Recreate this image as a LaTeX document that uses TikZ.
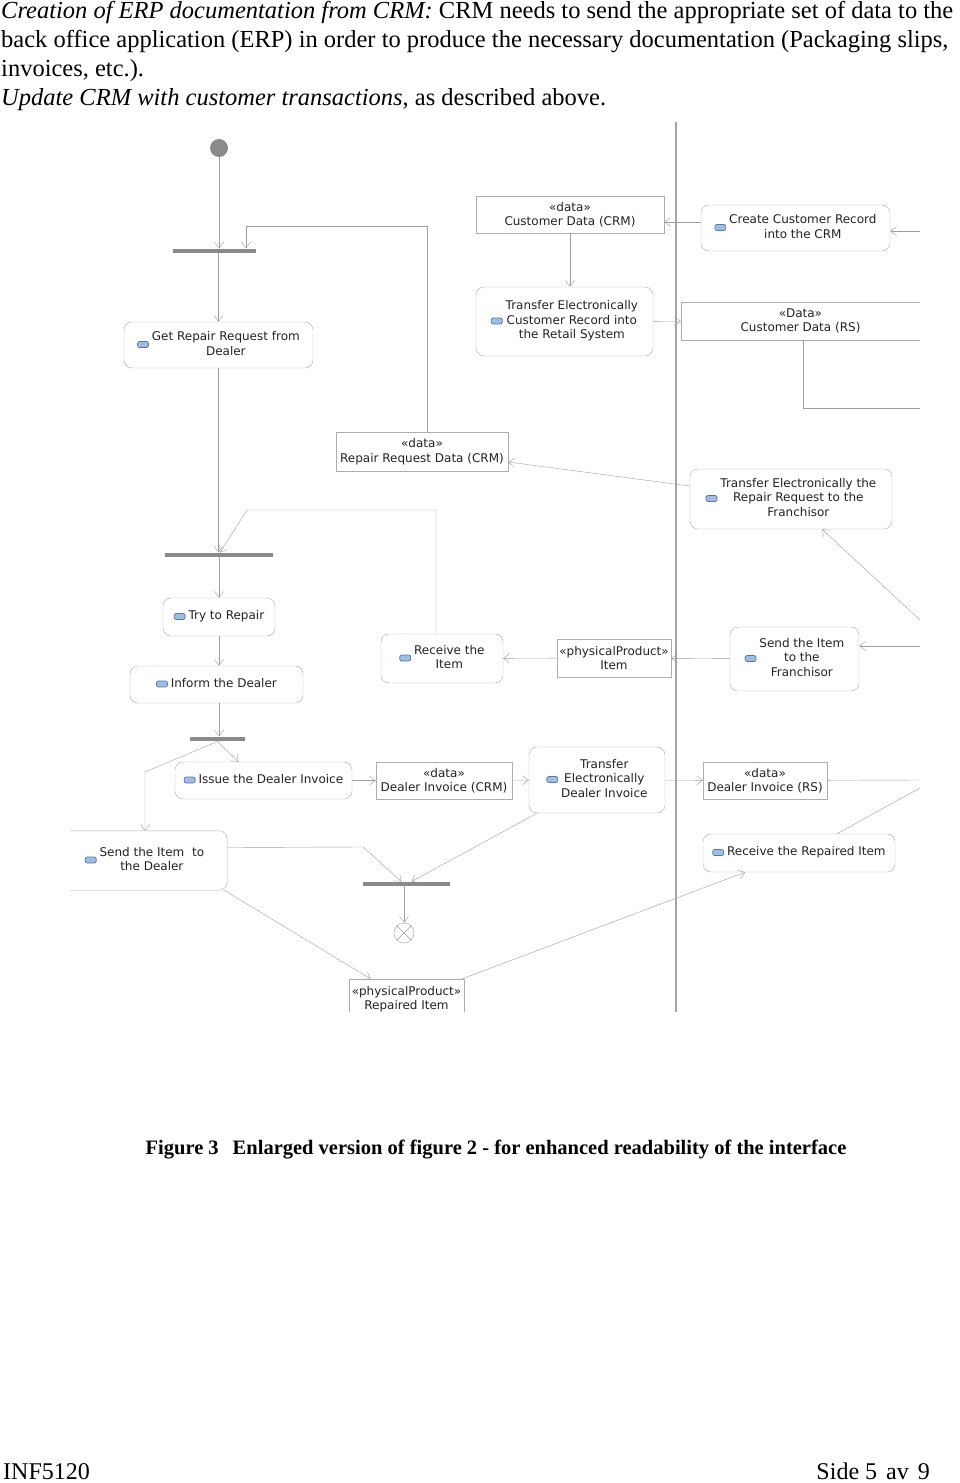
\documentclass[tikz,border=0pt]{standalone}
\usepackage{fontspec}
\usepackage{xcolor}
\usepackage{tikz}
\usetikzlibrary{arrows.meta,positioning,calc}

\newfontfamily\hdfont{Liberation Serif}
\newfontfamily\dgfont{DejaVu Sans}

\definecolor{lncol}{HTML}{9E9E9E}
\definecolor{bdcol}{HTML}{ADADAD}
\definecolor{barcol}{HTML}{8A8A8A}
\definecolor{lanecol}{HTML}{A4A4A4}
\definecolor{txcol}{HTML}{222222}
\definecolor{icofill}{HTML}{9FBDE3}
\definecolor{icobd}{HTML}{5277A8}

% small blue action glyph in front of an activity label
\newcommand{\actico}{\tikz[baseline={([yshift=-3.5pt]current bounding box.center)}]
  \draw[draw=icobd,fill=icofill,rounded corners=2pt,line width=0.7pt] (0,0) rectangle (11pt,6pt);}
\newcommand{\actlbl}[1]{\actico\hspace{3pt}\begin{tabular}{@{}c@{}}#1\end{tabular}}

\begin{document}
\begin{tikzpicture}[x=1pt,y=1pt,
  font=\dgfont\fontsize{12}{14.5}\selectfont, text=txcol,
  act/.style={draw=bdcol,rounded corners=8pt,inner sep=2pt,align=center},
  obj/.style={draw=bdcol,inner sep=2pt,align=center},
  bar/.style={fill=barcol,inner sep=0pt,minimum height=4.5pt},
  flow/.style={draw=lncol,-{Straight Barb[length=6pt,width=9pt]}},
  wire/.style={draw=lncol},
  hd/.style={font=\hdfont\fontsize{24.5}{29}\selectfont,text=black,inner sep=0pt}]
\useasboundingbox (0,0) rectangle (960,-1483);

% --- header text ---
\node[hd,anchor=base west] (hd1) at (1,-19) {\textit{Creation of ERP documentation from CRM:} CRM needs to send the appropriate set of data to the};
\node[hd,anchor=base west] (hd2) at (1,-47) {back office application (ERP) in order to produce the necessary documentation (Packaging slips,};
\node[hd,anchor=base west] (hd3) at (1,-76) {invoices, etc.).};
\node[hd,anchor=base west] (hd4) at (1,-105) {\textit{Update CRM with customer transactions}, as described above.};

% --- swimlane divider ---
\draw[lanecol,line width=2pt] (676,-122) -- (676,-1012);

% --- initial, forks, final ---
\node[circle,fill=barcol,minimum size=18pt,inner sep=0pt] (init) at (219,-148) {};
\node[bar,minimum width=83pt]  (bar1) at (214.5,-251) {};
\node[bar,minimum width=108pt] (bar2) at (219,-555) {};
\node[bar,minimum width=55pt]  (bar3) at (217.5,-739) {};
\node[bar,minimum width=87pt]  (bar4) at (406.5,-884) {};
\node[circle,draw=lncol,minimum size=20pt,inner sep=0pt] (fin) at (404,-933) {};
\draw[lncol] (fin.north west) -- (fin.south east) (fin.north east) -- (fin.south west);

% --- activities ---
\node[act,minimum width=189pt,minimum height=46pt] (getreq) at (218.5,-345) {\actlbl{Get Repair Request from\\Dealer}};
\node[act,minimum width=112pt,minimum height=38pt] (tryrep) at (219,-617) {\actlbl{Try to Repair}};
\node[act,minimum width=173pt,minimum height=37pt] (inform) at (216.5,-684.5) {\actlbl{Inform the Dealer}};
\node[act,minimum width=122pt,minimum height=49pt] (recitem) at (442,-658.5) {\actlbl{Receive the\\Item}};
\node[act,minimum width=177pt,minimum height=37pt] (issue) at (263.5,-780.5) {\actlbl{Issue the Dealer Invoice}};
\node[act,draw=none,minimum width=165pt,minimum height=59pt] (senddlr) at (144.5,-860.5) {\actlbl{Send the Item\ \ to\\the Dealer}};
\node[act,minimum width=177pt,minimum height=69pt] (trcust) at (564.5,-321.5) {\actlbl{Transfer Electronically\\Customer Record into\\the Retail System}};
\node[act,minimum width=189pt,minimum height=46pt] (create) at (795.5,-228) {\actlbl{Create Customer Record\\into the CRM}};
\node[act,minimum width=202pt,minimum height=60pt] (trreq) at (791,-499) {\actlbl{Transfer Electronically the\\Repair Request to the\\Franchisor}};
\node[act,minimum width=129pt,minimum height=64pt] (sendfr) at (794.5,-659) {\actlbl{Send the Item\\to the\\Franchisor}};
\node[act,minimum width=136pt,minimum height=66pt] (trinv) at (597,-780) {\actlbl{Transfer\\Electronically\\Dealer Invoice}};
\node[act,minimum width=192pt,minimum height=38pt] (recrep) at (799,-853) {\actlbl{Receive the Repaired Item}};
\draw[bdcol,rounded corners=8pt] ([xshift=8pt]senddlr.north west) -- (senddlr.north east)
  -- (senddlr.south east) -- ([xshift=8pt]senddlr.south west);

% --- object nodes ---
\node[obj,minimum width=188pt,minimum height=37pt] (custcrm) at (570,-214.5) {«data»\\Customer Data (CRM)};
\node[obj,minimum width=172pt,minimum height=39pt] (reqcrm) at (422,-451.5) {«data»\\Repair Request Data (CRM)};
\node[obj,minimum width=114pt,minimum height=38pt] (item) at (614,-658) {«physicalProduct»\\Item};
\node[obj,minimum width=136pt,minimum height=37pt] (invcrm) at (444,-780.5) {«data»\\Dealer Invoice (CRM)};
\node[obj,minimum width=124pt,minimum height=37pt] (invrs) at (765,-780.5) {«data»\\Dealer Invoice (RS)};
\node[obj,draw=none,minimum width=239pt,minimum height=38pt] (custrs) at (800.5,-321) {«Data»\\Customer Data (RS)};
\node[obj,draw=none,minimum width=115pt,minimum height=40pt] (repitem) at (406.5,-999) {«physicalProduct»\\Repaired Item};
\draw[bdcol] (custrs.north east) -- (custrs.north west) -- (custrs.south west) -- (custrs.south east);
\draw[bdcol] ([yshift=7pt]repitem.south west) -- (repitem.north west) -- (repitem.north east) -- ([yshift=7pt]repitem.south east);

% --- bends and loose ends at the clipped right border ---
\coordinate (loop1) at (246,-226);
\coordinate (loop2) at (247,-510);
\coordinate (sd1) at (145,-772);
\coordinate (sd2) at (363,-847);
\coordinate (offcre) at (920,-231);
\coordinate (offcust) at (920,-408);
\coordinate (offreq) at (920,-620);
\coordinate (offsend) at (920,-646);
\coordinate (offinv) at (920,-780);
\coordinate (offrep) at (920,-788);

% --- flows ---
\draw[flow] (init) -- (init |- bar1.north);
\draw[flow] ([xshift=5pt]reqcrm.north) |- (loop1) -- (loop1 |- bar1.north);
\draw[flow] (getreq.north |- bar1.south) -- (getreq.north);
\draw[flow] (getreq.south) -- (getreq.south |- bar2.north);
\draw[flow] ([xshift=-6pt]recitem.north) |- (loop2) -- ([xshift=1pt]bar2.north);
\draw[flow] (bar2.south) -- (tryrep.north);
\draw[flow] (tryrep.south) -- (tryrep.south |- inform.north);
\draw[flow] (tryrep.south |- inform.south) -- (tryrep.south |- bar3.north);
\draw[flow] (bar3.south) -- ([xshift=-25pt]issue.north);
\draw[flow] (bar3.south) -- (sd1) -- (sd1 |- senddlr.north);
\draw[flow] (issue) -- (invcrm);
\draw[flow] (invcrm) -- (trinv);
\draw[flow] (trinv) -- (invrs);
\draw[wire] (invrs) -- (offinv);
\draw[flow] ([xshift=-60pt]trinv.south) -- ([xshift=5pt]bar4.north);
\draw[flow] ([yshift=13pt]senddlr.east) -- (sd2) -- ([xshift=-5pt]bar4.north);
\draw[flow] (bar4.south -| fin) -- (fin);
\draw[flow] ([xshift=-3pt]senddlr.south east) -- ([xshift=-36pt]repitem.north);
\draw[flow] ([xshift=-2pt]repitem.north east) -- ([xshift=-54pt]recrep.south);
\draw[wire] (offrep) -- ([xshift=38pt]recrep.north);
\draw[flow] (item) -- (recitem);
\draw[flow] (sendfr) -- (item);
\draw[flow] (offsend) -- (offsend -| sendfr.east);
\draw[flow] ([yshift=13pt]trreq.west) -- ([yshift=-10.5pt]reqcrm.east);
\draw[flow] (offreq) -- ([xshift=31pt]trreq.south);
\draw[flow] (offcre) -- (offcre -| create.east);
\draw[flow] ([yshift=6pt]create.west) -- ([yshift=-7.5pt]custcrm.east);
\draw[flow] (custcrm.south) -- (custcrm.south |- trcust.north);
\draw[flow] (trcust) -- (custrs);
\draw[wire] ([xshift=2.5pt]custrs.south) |- (offcust);

% --- caption and page foot ---
\node[font=\hdfont\bfseries\fontsize{20.5}{24}\selectfont,text=black,anchor=base,inner sep=0pt] (cap) at (496,-1154)
  {Figure 3\hspace{14pt}Enlarged version of figure 2 - for enhanced readability of the interface};
\node[hd,font=\hdfont\fontsize{24}{29}\selectfont,anchor=base west] (ftl) at (3,-1479) {INF5120};
\node[hd,font=\hdfont\fontsize{24}{29}\selectfont,anchor=base east] (ftr) at (930,-1479) {Side 5\hspace{3pt} av\hspace{3pt} 9};
\end{tikzpicture}
\end{document}
